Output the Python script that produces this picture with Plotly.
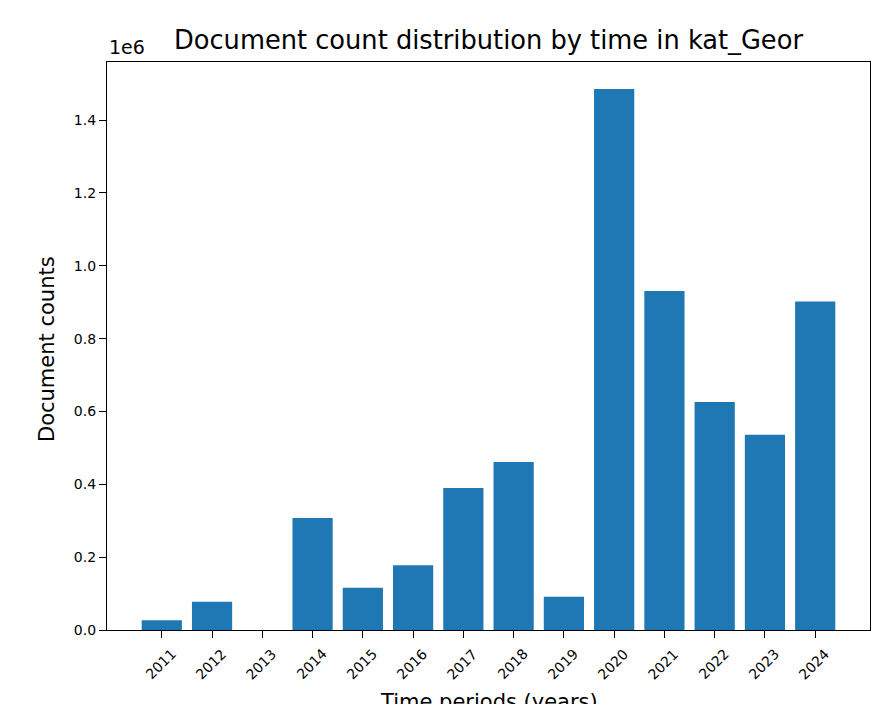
import plotly.graph_objects as go

years = ["2011", "2012", "2013", "2014", "2015", "2016", "2017",
         "2018", "2019", "2020", "2021", "2022", "2023", "2024"]
doc_counts = [26600, 77800, 0, 307700, 116000, 177700, 390000,
              461500, 91600, 1485400, 931000, 626000, 536000, 902000]
y_ticks = [0, 200000, 400000, 600000, 800000, 1000000, 1200000, 1400000]
y_tick_labels = ["0.0", "0.2", "0.4", "0.6", "0.8", "1.0", "1.2", "1.4"]

FONT = "DejaVu Sans"
BLUE = "#1f77b4"

positions = list(range(len(years)))
ymax = max(doc_counts) * 1.05
xpad = (len(years) - 1 + 0.8) * 0.05

fig = go.Figure(go.Bar(x=positions, y=doc_counts, width=0.8,
                       marker=dict(color=BLUE, line=dict(width=0))))

axis_common = dict(showline=True, linecolor="black", linewidth=1.3, mirror=True,
                   ticks="outside", ticklen=7, tickwidth=1.3, tickcolor="black",
                   showgrid=False, zeroline=False)

fig.update_xaxes(range=[-0.4 - xpad, len(years) - 1 + 0.4 + xpad],
                 tickvals=positions, showticklabels=False, **axis_common)
fig.update_yaxes(range=[0, ymax], tickvals=y_ticks, ticktext=y_tick_labels,
                 tickfont=dict(family=FONT, size=14, color="black"), **axis_common)

annotations = []
for p, lab in zip(positions, years):
    annotations.append(dict(x=p, y=0, xref="x", yref="y", text=lab, showarrow=False,
                            textangle=-45, xanchor="center", yanchor="middle",
                            yshift=-34, xshift=-1,
                            font=dict(family=FONT, size=14, color="black")))
annotations += [
    dict(x=0.5, y=1, xref="paper", yref="paper", yshift=22, text="Document count distribution by time in kat_Geor",
         showarrow=False, xanchor="center", yanchor="middle",
         font=dict(family=FONT, size=25.7, color="black")),
    dict(x=0, y=1, xref="paper", yref="paper", yshift=15, xshift=0, text="1e6",
         showarrow=False, xanchor="left", yanchor="middle",
         font=dict(family=FONT, size=19, color="black")),
    dict(x=0.5, y=0, xref="paper", yref="paper", yshift=-72, text="Time periods (years)",
         showarrow=False, xanchor="center", yanchor="middle",
         font=dict(family=FONT, size=21, color="black")),
    dict(x=0, y=0.5, xref="paper", yref="paper", xshift=-60, yshift=-3, text="Document counts",
         showarrow=False, xanchor="center", yanchor="middle", textangle=-90,
         font=dict(family=FONT, size=21, color="black")),
]

fig.update_layout(width=891, height=704, margin=dict(l=107, r=21, t=62, b=74),
                  plot_bgcolor="white", paper_bgcolor="white",
                  annotations=annotations, showlegend=False)

fig.write_html("out.html")
